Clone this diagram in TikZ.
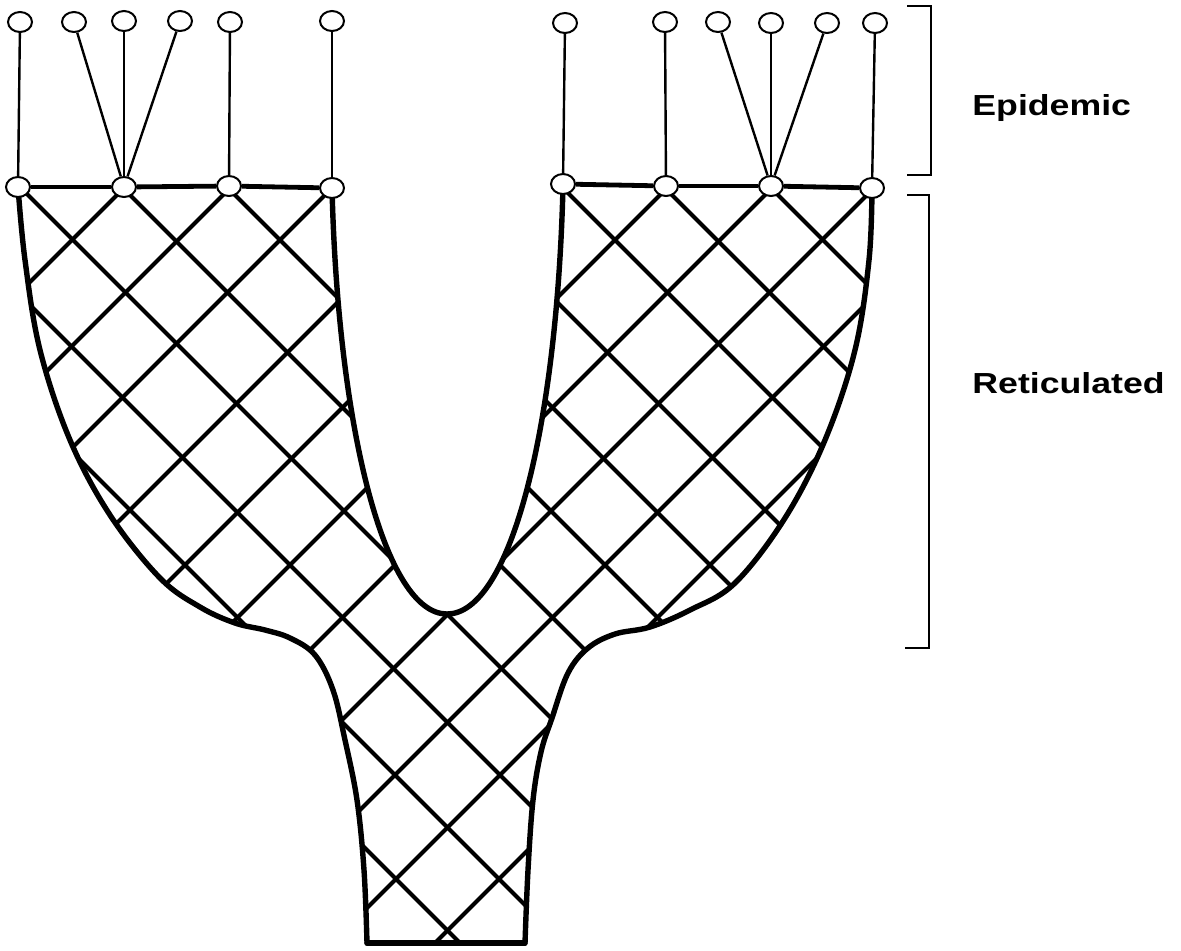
\documentclass[tikz,border=0pt]{standalone}
\usepackage{fontspec}
\newfontfamily\lblfont{Liberation Sans}
\usetikzlibrary{shapes.geometric}
\tikzset{
 vtx/.style={ellipse, draw, fill=white, line width=1pt, minimum width=12pt, minimum height=10pt, inner sep=0pt},
 lat/.style={line width=2pt},
 outl/.style={line width=2.7pt, line join=round, line cap=round},
 epi/.style={line width=1.2pt},
 rim/.style={line width=2.4pt},
 brk/.style={line width=1.1pt},
 lbl/.style={font=\lblfont\bfseries\fontsize{14.5}{17}\selectfont, anchor=base west, inner sep=0pt},
 sm/.style={smooth,tension=0.6}
}
\begin{document}
\begin{tikzpicture}[x=0.5pt,y=-0.5pt]
\useasboundingbox (0,0) rectangle (1181,950);
% lattice
\begin{scope}
\clip plot[sm] coordinates {(18,187) (25,260) (40,350) (70,440) (110,515) (160,578) (200,607) (235,623) (265,630) (290,638) (315,655) (333,690) (345,740) (357,800) (364,870) (367,943)}
 -- plot[sm] coordinates {(525,943) (528,870) (533,800) (541,752) (552,718) (568,673) (588,648) (615,634) (650,627) (690,610) (735,583) (785,518) (825,440) (855,350) (869,260) (872,188)}
 -- (563,186) .. controls (557,430) and (510,614) .. (447,614) .. controls (385,614) and (338,430) .. (332,188)
 -- cycle;
\foreach \c in {-483,-380,-275,-167,-65,40,145,255,375,477,583} {
  \draw[lat] ({\c+150},150) -- ({\c+1000},1000);
  \draw[lat] ({895-\c-150},150) -- ({895-\c-1000},1000);
}
\end{scope}
% outline
\draw[outl] plot[sm] coordinates {(18,187) (25,260) (40,350) (70,440) (110,515) (160,578) (200,607) (235,623) (265,630) (290,638) (315,655) (333,690) (345,740) (357,800) (364,870) (367,943)};
\draw[outl] plot[sm] coordinates {(525,943) (528,870) (533,800) (541,752) (552,718) (568,673) (588,648) (615,634) (650,627) (690,610) (735,583) (785,518) (825,440) (855,350) (869,260) (872,188)};
\draw[outl] (563,186) .. controls (557,430) and (510,614) .. (447,614) .. controls (385,614) and (338,430) .. (332,188);
\draw[outl] (367,943) -- (525,943);
% rim nodes
\node[vtx] (b1) at (18,187) {};
\node[vtx] (b2) at (124,187) {};
\node[vtx] (b3) at (229,186) {};
\node[vtx] (b4) at (332,188) {};
\node[vtx] (b5) at (563,184) {};
\node[vtx] (b6) at (666,186) {};
\node[vtx] (b7) at (771,186) {};
\node[vtx] (b8) at (872,188) {};
% tip nodes
\node[vtx] (t1) at (20,22) {};
\node[vtx] (t2) at (74,22) {};
\node[vtx] (t3) at (124,21) {};
\node[vtx] (t4) at (180,21) {};
\node[vtx] (t5) at (230,22) {};
\node[vtx] (t6) at (332,21) {};
\node[vtx] (t7) at (565,23) {};
\node[vtx] (t8) at (665,22) {};
\node[vtx] (t9) at (718,22) {};
\node[vtx] (t10) at (771,23) {};
\node[vtx] (t11) at (827,23) {};
\node[vtx] (t12) at (875,23) {};
% rim edges
\draw[rim] (b1) -- (b2); \draw[rim] (b2) -- (b3); \draw[rim] (b3) -- (b4);
\draw[rim] (b5) -- (b6); \draw[rim] (b6) -- (b7); \draw[rim] (b7) -- (b8);
% epidemic edges
\draw[epi] (t1) -- (b1);
\draw[epi] (t2) -- (b2);
\draw[epi] (t3) -- (b2);
\draw[epi] (t4) -- (b2);
\draw[epi] (t5) -- (b3);
\draw[epi] (t6) -- (b4);
\draw[epi] (t7) -- (b5);
\draw[epi] (t8) -- (b6);
\draw[epi] (t9) -- (b7);
\draw[epi] (t10) -- (b7);
\draw[epi] (t11) -- (b7);
\draw[epi] (t12) -- (b8);
% brackets
\draw[brk] (907,6) -- (931,6) -- (931,175) -- (907,175);
\draw[brk] (907,195) -- (929,195) -- (929,648) -- (905,648);
% labels
\node[lbl] (epi) at (972,115) {\scalebox{1.23}[1]{Epidemic}};
\node[lbl] (ret) at (972,393) {\scalebox{1.23}[1]{Reticulated}};
\end{tikzpicture}
\end{document}
